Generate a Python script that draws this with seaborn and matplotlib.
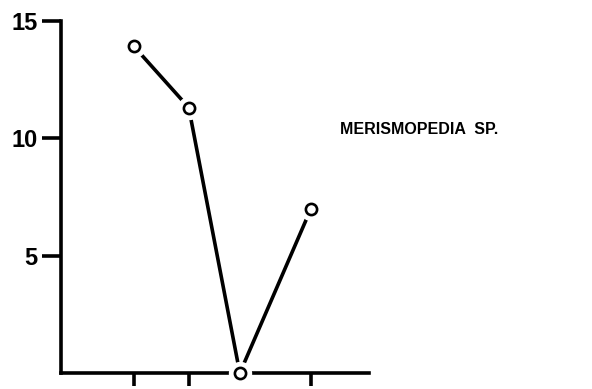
import pandas as pd
import seaborn as sns
import matplotlib.pyplot as plt

sns.set_style("ticks")
plt.rcParams['font.family'] = ['Liberation Sans', 'DejaVu Sans']
# pure black like the printed figure
for key in ['axes.edgecolor', 'xtick.color', 'ytick.color', 'text.color', 'axes.labelcolor']:
    plt.rcParams[key] = 'black'

# values
sample_x = [4, 7, 9.8, 13.7]
counts = [13.9, 11.3, 0.0, 7.0]
x_tick_pos = [4, 7, 13.7]
y_ticks = [5, 10, 15]
y_tick_labels = ['5', '10', '15']
species = 'MERISMOPEDIA  SP.'

df = pd.DataFrame({'x': sample_x, 'count': counts})

fig = plt.figure(figsize=(5.92, 3.89), dpi=100)
ax = fig.add_axes([0.103, 0.041, 0.521, 0.906])

sns.lineplot(data=df, x='x', y='count', color='black', lw=2.6, ax=ax,
             clip_on=False, zorder=2)
# white halo so the line stops short of each marker
ax.scatter(df['x'], df['count'], s=250, color='white', zorder=4, clip_on=False)
ax.scatter(df['x'], df['count'], s=65, facecolor='white', edgecolor='black',
           linewidth=1.9, zorder=5, clip_on=False)

ax.set_xlim(0, 16.9)
ax.set_ylim(0, 15)
ax.set_xticks(x_tick_pos)
ax.set_xticklabels([])
ax.set_yticks(y_ticks)
ax.set_yticklabels(y_tick_labels, fontweight='bold', fontsize=17)
ax.tick_params(axis='y', length=14, width=2.6, pad=3, direction='out')
ax.tick_params(axis='x', length=9, width=2.6, direction='out')
ax.set_xlabel('')
ax.set_ylabel('')
sns.despine(ax=ax)
for s in ['left', 'bottom']:
    ax.spines[s].set_linewidth(2.6)

fig.text(0.574, 0.666, species, fontsize=11.5, fontweight='bold',
         va='center', ha='left')

fig.savefig('out.png', dpi=100, facecolor='white')
